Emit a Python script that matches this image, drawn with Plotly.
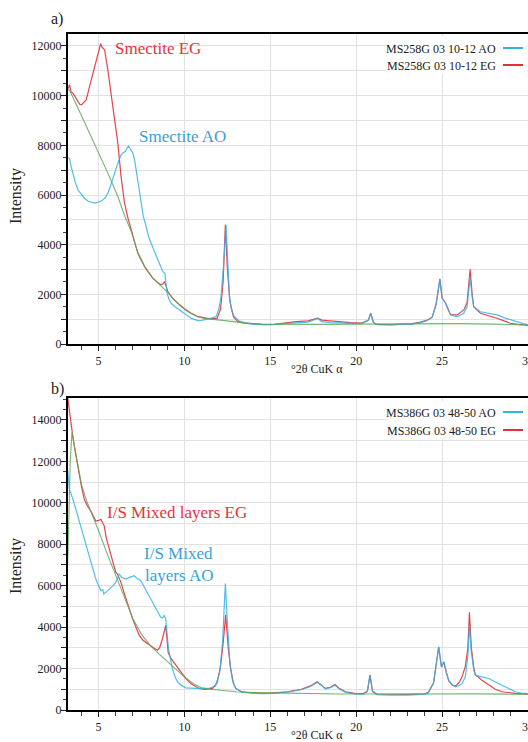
import plotly.graph_objects as go

W, H = 528, 742

# ---------------- Panel a data ----------------
a_eg_x = [3.24, 3.31, 3.4, 3.5, 3.6, 3.75, 3.9, 4.0, 4.1, 4.28, 4.45, 4.67, 4.85, 4.96, 5.05, 5.12, 5.2, 5.35,
          5.54, 5.7, 5.83, 6.0, 6.12, 6.31, 6.51, 6.7, 6.9, 7.1, 7.28, 7.5, 7.67, 7.9, 8.16, 8.4, 8.64, 8.75,
          8.84, 8.92, 9.03, 9.3, 9.61, 10.0, 10.39, 10.8, 11.16, 11.5, 11.9, 12.1, 12.25, 12.38, 12.5, 12.65,
          12.85, 13.1, 13.5, 14.0, 14.6, 15.2, 15.8, 16.5, 17.2, 17.75, 18.0, 18.5, 19.0, 19.67, 20.3, 20.7,
          20.84, 21.0, 21.2, 22.0, 22.5, 23.2, 23.74, 24.1, 24.42, 24.65, 24.87, 25.0, 25.2, 25.35, 25.49,
          25.88, 26.26, 26.45, 26.63, 26.75, 26.84, 27.23, 27.7, 28.2, 28.6, 28.97, 29.4, 29.75, 30.0]
a_eg_y = [10300, 10440, 10150, 10100, 10000, 9800, 9650, 9630, 9700, 9830, 10300, 10900, 11450, 11710, 12000,
          12090, 11950, 11850, 11040, 10300, 9560, 8700, 8090, 6740, 5680, 5100, 4590, 4100, 3660, 3350, 3120,
          2880, 2650, 2500, 2380, 2420, 2510, 2350, 2110, 1850, 1640, 1420, 1240, 1100, 1040, 1010, 1030, 1400,
          2500, 4800, 3000, 1700, 1100, 900, 840, 800, 780, 790, 850, 900, 930, 1040, 960, 940, 900, 860, 840,
          950, 1240, 880, 790, 780, 790, 810, 880, 950, 1080, 1600, 2620, 1850, 1650, 1400, 1180, 1170, 1370,
          1650, 3010, 2000, 1500, 1240, 1150, 1035, 930, 835, 790, 770, 760]

a_ao_x = [3.24, 3.31, 3.4, 3.5, 3.65, 3.8, 4.0, 4.18, 4.4, 4.6, 4.76, 5.0, 5.25, 5.4, 5.54, 5.7, 5.83, 6.0,
          6.12, 6.3, 6.41, 6.55, 6.65, 6.74, 6.85, 6.99, 7.1, 7.19, 7.3, 7.48, 7.6, 7.77, 7.9, 8.06, 8.25,
          8.45, 8.6, 8.74, 8.86, 8.93, 8.99, 9.1, 9.22, 9.45, 9.7, 10.0, 10.38, 10.77, 11.0, 11.35, 11.6,
          11.84, 12.0, 12.13, 12.28, 12.42, 12.52, 12.62, 12.75, 12.91, 13.2, 13.49, 14.0, 14.6, 15.2, 15.8,
          16.5, 17.2, 17.75, 18.0, 18.5, 19.0, 19.67, 20.3, 20.7, 20.84, 21.0, 21.2, 22.0, 22.5, 23.2, 23.74,
          24.1, 24.42, 24.65, 24.87, 25.0, 25.2, 25.35, 25.49, 25.88, 26.26, 26.45, 26.63, 26.75, 26.84,
          27.23, 27.7, 28.2, 28.6, 28.97, 29.4, 29.75, 30.0]
a_ao_y = [7500, 7480, 7150, 6880, 6500, 6200, 6000, 5870, 5750, 5720, 5670, 5720, 5800, 5900, 6070, 6380, 6680,
          7000, 7280, 7600, 7690, 7750, 7900, 7980, 7850, 7690, 7400, 7010, 6400, 5670, 5150, 4730, 4350, 4060,
          3700, 3390, 3150, 2910, 2850, 2500, 2040, 1800, 1640, 1500, 1370, 1200, 1040, 940, 950, 1000, 1050,
          1100, 1400, 1910, 3200, 4800, 3300, 1910, 1350, 1100, 920, 860, 790, 770, 780, 820, 860, 880, 1030,
          900, 860, 850, 840, 820, 950, 1240, 860, 780, 770, 780, 800, 860, 940, 1070, 1600, 2600, 1840, 1640,
          1380, 1170, 1100, 1240, 1500, 2650, 1900, 1500, 1300, 1250, 1170, 1060, 970, 880, 810, 780]

a_bg_x = [3.24, 3.5, 4.0, 4.5, 5.0, 5.54, 6.12, 6.5, 6.9, 7.28, 7.67, 8.16, 8.64, 9.0, 9.61, 10.0, 10.39,
          10.77, 11.16, 11.93, 12.5, 13.49, 14.5, 16.0, 18.0, 20.0, 22.0, 24.0, 26.0, 28.0, 30.0]
a_bg_y = [10300, 9950, 9200, 8450, 7700, 6880, 5940, 5200, 4530, 3700, 3150, 2650, 2330, 2100, 1640, 1400,
          1230, 1100, 1030, 970, 920, 850, 800, 790, 790, 800, 810, 820, 820, 800, 770]

# ---------------- Panel b data ----------------
b_eg_x = [3.2, 3.3, 3.39, 3.5, 3.59, 3.75, 3.88, 4.0, 4.17, 4.35, 4.55, 4.7, 4.84, 5.0, 5.14, 5.25, 5.33, 5.45,
          5.62, 5.8, 5.91, 6.0, 6.1, 6.3, 6.45, 6.59, 6.8, 6.98, 7.2, 7.37, 7.6, 7.95, 8.2, 8.43, 8.55, 8.72,
          8.85, 8.91, 8.97, 9.05, 9.2, 9.5, 9.8, 10.08, 10.4, 10.85, 11.2, 11.63, 11.9, 12.11, 12.25, 12.4,
          12.55, 12.69, 12.85, 12.98, 13.37, 14.0, 14.6, 15.2, 16.0, 16.8, 17.3, 17.73, 18.0, 18.2, 18.5,
          18.76, 19.0, 19.38, 19.9, 20.4, 20.65, 20.8, 20.95, 21.2, 22.0, 23.0, 24.0, 24.2, 24.5, 24.8, 24.96,
          25.1, 25.25, 25.39, 25.6, 25.78, 26.0, 26.16, 26.35, 26.5, 26.59, 26.7, 26.85, 26.94, 27.3, 27.72,
          28.1, 28.49, 28.9, 29.26, 30.0]
b_eg_y = [15100, 14400, 13840, 13200, 12720, 11900, 11280, 10800, 10160, 9850, 9600, 9350, 9120, 9150, 9200,
          9000, 8880, 8300, 7760, 7150, 6800, 6650, 6560, 6160, 5750, 5360, 4850, 4400, 3950, 3600, 3350, 3120,
          3000, 2880, 3000, 3440, 3800, 4080, 3500, 2800, 2500, 2160, 1800, 1520, 1250, 1040, 1000, 1040, 1300,
          2160, 3200, 4600, 3000, 2000, 1300, 1040, 860, 820, 800, 830, 880, 1000, 1150, 1360, 1200, 1040, 1100,
          1230, 1050, 880, 800, 790, 900, 1680, 900, 770, 760, 750, 780, 850, 1300, 3040, 2080, 2320, 1800,
          1400, 1200, 1150, 1350, 1600, 2100, 3000, 4720, 3000, 2000, 1700, 1450, 1200, 1000, 880, 830, 800,
          770]

b_ao_x = [3.2, 3.3, 3.5, 3.68, 3.9, 4.07, 4.25, 4.46, 4.65, 4.84, 5.0, 5.14, 5.25, 5.3, 5.42, 5.6, 5.72, 5.85,
          6.0, 6.1, 6.2, 6.35, 6.59, 6.8, 7.07, 7.25, 7.46, 7.65, 7.85, 8.05, 8.24, 8.45, 8.62, 8.72, 8.82,
          8.91, 9.0, 9.07, 9.2, 9.3, 9.45, 9.6, 9.8, 10.08, 10.65, 11.0, 11.4, 11.8, 12.05, 12.22, 12.38,
          12.5, 12.65, 12.8, 12.98, 13.37, 14.0, 14.6, 15.2, 16.0, 16.8, 17.3, 17.73, 18.0, 18.2, 18.5, 18.76,
          19.0, 19.38, 19.9, 20.4, 20.65, 20.8, 20.95, 21.2, 22.0, 23.0, 24.0, 24.2, 24.5, 24.8, 24.96, 25.1,
          25.25, 25.39, 25.6, 25.78, 26.0, 26.16, 26.35, 26.5, 26.59, 26.7, 26.85, 26.94, 27.3, 27.72, 28.1,
          28.49, 28.9, 29.26, 29.6, 30.0]
b_ao_y = [11600, 10640, 10200, 9680, 9100, 8560, 8000, 7440, 6900, 6320, 6000, 5760, 5800, 5600, 5680, 5800,
          5920, 6000, 6160, 6400, 6560, 6400, 6320, 6400, 6480, 6350, 6240, 5950, 5680, 5350, 5040, 4750, 4480,
          4450, 4560, 4400, 3600, 2960, 2400, 2000, 1600, 1360, 1200, 1070, 1040, 1040, 1040, 1150, 1800, 3300,
          6110, 4200, 2200, 1400, 1050, 860, 800, 790, 800, 860, 980, 1120, 1330, 1180, 1020, 1080, 1200, 1020,
          850, 780, 760, 900, 1700, 880, 740, 720, 720, 760, 830, 1300, 3050, 2080, 2320, 1800, 1400, 1200, 1120,
          1180, 1280, 1600, 2600, 4080, 2800, 1900, 1680, 1600, 1520, 1350, 1200, 1030, 880, 820, 790]

b_bg_x = [3.2, 3.27, 3.35, 3.45, 3.6, 3.8, 4.0, 4.3, 4.6, 5.0, 5.5, 6.0, 6.5, 7.0, 7.5, 8.0, 8.5, 9.0, 9.5,
          10.0, 10.5, 11.0, 11.5, 12.0, 13.0, 14.0, 16.0, 18.0, 19.0, 19.1, 22.0, 25.0, 27.0, 30.0]
b_bg_y = [7000, 10000, 12000, 13400, 12700, 11700, 10900, 10100, 9500, 8650, 7550, 6500, 5500, 4400, 3650, 3120,
          2720, 2350, 2000, 1600, 1280, 1070, 1000, 960, 880, 840, 810, 800, 790, 770, 770, 780, 780, 760]

# labels
a_names = ["MS258G 03 10-12 AO", "MS258G 03 10-12 EG"]
b_names = ["MS386G 03 48-50 AO", "MS386G 03 48-50 EG"]
x_title = "°2θ CuK α"
y_title = "Intensity"

BLUE = "#35b2e4"
RED = "#dc323c"
GREEN = "#5ea85a"
BLUE_TXT = "#3aa2d4"
RED_TXT = "#e8323c"
FONT = "Liberation Serif, Times New Roman, serif"


def xp(px):
    return px / W


def yp(py):
    return 1 - py / H


fig = go.Figure()

for xa, ya, (ex, ey, ox, oy, gx, gy) in [
    ("x", "y", (a_eg_x, a_eg_y, a_ao_x, a_ao_y, a_bg_x, a_bg_y)),
    ("x2", "y2", (b_eg_x, b_eg_y, b_ao_x, b_ao_y, b_bg_x, b_bg_y)),
]:
    fig.add_trace(go.Scatter(x=ex, y=ey, mode="lines", line=dict(color=RED, width=1.2), opacity=0.9,
                             xaxis=xa, yaxis=ya, showlegend=False, hoverinfo="skip"))
    fig.add_trace(go.Scatter(x=ox, y=oy, mode="lines", line=dict(color=BLUE, width=1.2), opacity=0.85,
                             xaxis=xa, yaxis=ya, showlegend=False, hoverinfo="skip"))
    fig.add_trace(go.Scatter(x=gx, y=gy, mode="lines", line=dict(color=GREEN, width=1.1), opacity=0.85,
                             xaxis=xa, yaxis=ya, showlegend=False, hoverinfo="skip"))

xdom = [xp(68), 1.0]
x_common = dict(range=[3.22, 30.0], domain=xdom, tickvals=[5, 10, 15, 20, 25, 30],
                ticks="outside", ticklen=5, tickwidth=1, tickcolor="#222", ticklabeloverflow="allow",
                automargin=False,
                showgrid=True, gridcolor="#e2e2e2", gridwidth=1,
                minor=dict(dtick=1, tick0=0, ticks="outside", ticklen=4, tickcolor="#444", showgrid=False),
                showline=True, linecolor="black", linewidth=2, mirror=True, zeroline=False,
                tickfont=dict(family=FONT, size=12, color="#222"))


def y_common(top, maxlab, dom):
    vals = list(range(0, maxlab + 1, 1000))
    txt = [str(v) if v % 2000 == 0 else "" for v in vals]
    return dict(range=[0, top], domain=dom, tickvals=vals, ticktext=txt,
                ticks="outside", ticklen=5, tickwidth=1, tickcolor="#222", automargin=False,
                ticklabelstandoff=-3,
                showgrid=True, gridcolor="#e2e2e2", gridwidth=1,
                minor=dict(dtick=500, tick0=0, ticks="outside", ticklen=3, tickcolor="#444", showgrid=False),
                showline=True, linecolor="black", linewidth=2, mirror=True, zeroline=False,
                tickfont=dict(family=FONT, size=12, color="#222"))


fig.update_layout(
    width=W, height=H, autosize=False,
    margin=dict(l=0, r=0, t=0, b=0, pad=0),
    paper_bgcolor="white", plot_bgcolor="white",
    showlegend=False, hovermode=False,
    font=dict(family=FONT, color="#222"),
    xaxis=dict(anchor="y", **x_common),
    yaxis=dict(anchor="x", **y_common(12483, 12000, [yp(344), yp(34)])),
    xaxis2=dict(anchor="y2", **x_common),
    yaxis2=dict(anchor="x2", **y_common(15060, 14000, [yp(710), yp(398)])),
)

ann = []
shapes = []


def txt(x, y, s, size, color="#222", xanchor="center", angle=0):
    ann.append(dict(x=xp(x), y=yp(y), xref="paper", yref="paper", text=s, showarrow=False,
                    xanchor=xanchor, yanchor="middle", textangle=angle,
                    font=dict(family=FONT, size=size, color=color)))


# panel letters
txt(57, 19, "a)", 16)
txt(57, 389, "b)", 16)
# axis titles
txt(317, 369, x_title, 12)
txt(317, 735, x_title, 12)
txt(16, 196, y_title, 16, angle=-90)
txt(16, 566, y_title, 16, angle=-90)
# peak labels
txt(113, 49, "Smectite EG", 17, RED_TXT, "left")
txt(137, 137, "Smectite AO", 17, BLUE_TXT, "left")
txt(105, 512, "I/S Mixed layers EG", 17, RED_TXT, "left")
txt(142, 553, "I/S Mixed", 17, BLUE_TXT, "left")
txt(143, 575, "layers AO", 17, BLUE_TXT, "left")

# legends (text then line sample)
for (ytop, names, rows) in [(36, a_names, (49, 66)), (401, b_names, (413, 431))]:
    shapes.append(dict(type="rect", xref="paper", yref="paper", x0=xp(386), x1=xp(527), y0=yp(ytop + 38),
                       y1=yp(ytop), fillcolor="white", line=dict(width=0), layer="above"))
    for name, row, col in zip(names, rows, (BLUE, RED)):
        txt(498, row, name, 12, "#222", "right")
        shapes.append(dict(type="line", xref="paper", yref="paper", x0=xp(503), x1=xp(523),
                           y0=yp(row - 1), y1=yp(row - 1), line=dict(color=col, width=2), layer="above"))

fig.update_layout(annotations=ann, shapes=shapes)
fig.write_html("out.html", config={"displayModeBar": False, "staticPlot": True},
               post_script="document.body.style.margin='0';document.body.style.overflow='hidden';")
